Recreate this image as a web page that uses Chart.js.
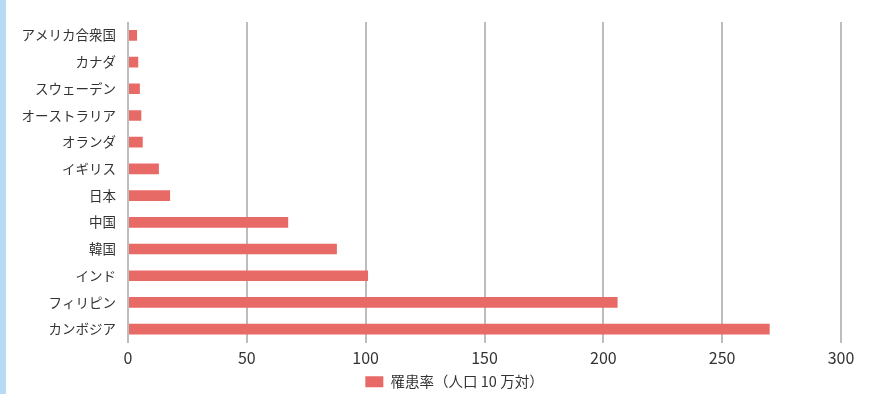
<!DOCTYPE html>
<html>
<head>
<meta charset="utf-8">
<script src="https://cdn.jsdelivr.net/npm/chart.js@4"></script>
<style>
  html, body { margin: 0; padding: 0; background: #fff; }
  #wrap { position: relative; width: 874px; height: 394px; }
  #stripe { position: absolute; left: 0; top: 0; width: 6px; height: 394px; background: #b7dbf5; }
  canvas { position: absolute; left: 0; top: 0; }
</style>
</head>
<body>
<div id="wrap">
  <canvas id="tb" width="874" height="394"></canvas>
  <div id="stripe"></div>
</div>
<script>
const countries = ["アメリカ合衆国", "カナダ", "スウェーデン", "オーストラリア", "オランダ", "イギリス", "日本", "中国", "韓国", "インド", "フィリピン", "カンボジア"];
const rates = [3.8, 4.3, 5.0, 5.6, 6.2, 13.0, 17.7, 67.4, 87.9, 101, 206, 270];
const seriesName = "罹患率（人口 10 万対）";
const xTicks = [0, 50, 100, 150, 200, 250, 300];

const font = "'Noto Sans CJK JP', 'Noto Sans', sans-serif";

// legend sits a bit right of the canvas centre in the original
const legendShift = {
  id: "legendShift",
  afterLayout(chart) {
    const lg = chart.legend;
    lg.left += 34;
    lg.right += 34;
    if (lg.legendHitBoxes) lg.legendHitBoxes.forEach((b) => { b.left += 34; });
  },
};

showChart_tb();
function showChart_tb() {
  const ctx = document.getElementById("tb");
  new Chart(ctx, {
    type: "bar",
    data: {
      labels: countries,
      datasets: [
        {
          label: seriesName,
          data: rates,
          backgroundColor: "#e86a66",
          borderWidth: 0,
          barPercentage: 0.8,
          categoryPercentage: 0.5,
        },
      ],
    },
    options: {
      indexAxis: "y",
      responsive: false,
      animation: false,
      layout: {
        padding: { left: 0, right: 33, top: 22, bottom: -5 },
      },
      scales: {
        x: {
          min: 0,
          max: 300,
          afterBuildTicks: (scale) => {
            scale.ticks = xTicks.map((v) => ({ value: v }));
          },
          afterFit: (scale) => { scale.height = 32; },
          grid: { color: "#bdbdbd", lineWidth: 2, drawTicks: false },
          border: { display: false },
          ticks: { color: "#333", font: { family: font, size: 16 }, padding: 6 },
        },
        y: {
          afterFit: (scale) => { scale.width = 128; },
          grid: { display: false, drawTicks: false },
          border: { display: false },
          ticks: { color: "#333", font: { family: font, size: 13.5 }, padding: 12 },
        },
      },
      plugins: {
        legend: {
          position: "bottom",
          labels: {
            boxWidth: 18,
            boxHeight: 11,
            padding: 0,
            color: "#333",
            font: { family: font, size: 14.5 },
          },
        },
        tooltip: { enabled: false },
      },
    },
    plugins: [legendShift],
  });
}
</script>
</body>
</html>
